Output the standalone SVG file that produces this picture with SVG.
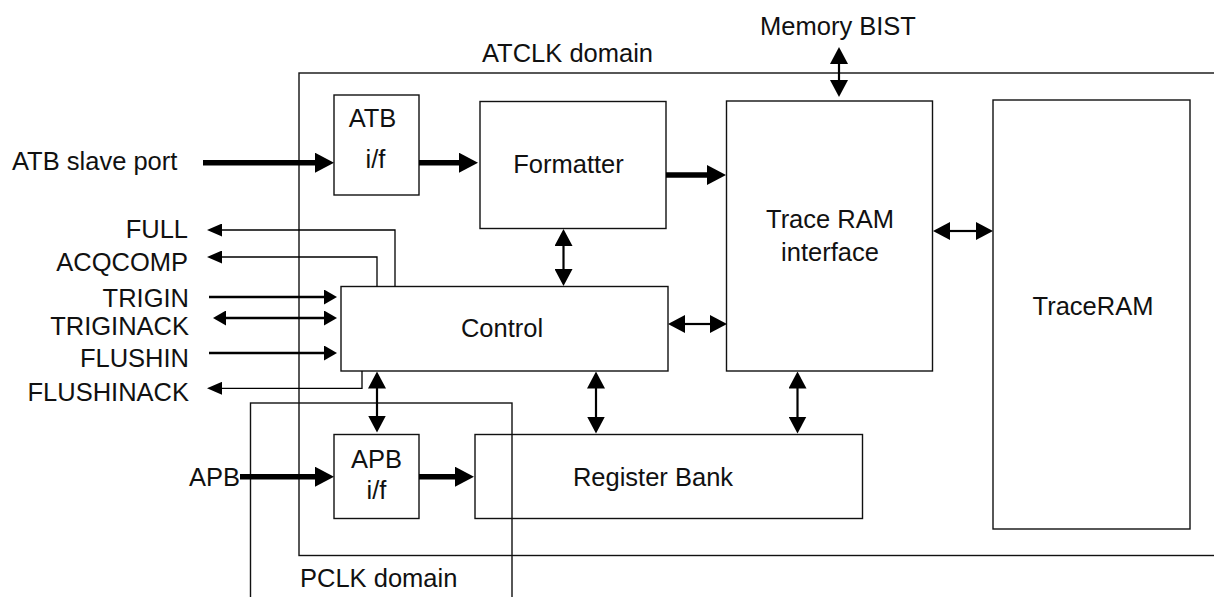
<svg xmlns="http://www.w3.org/2000/svg" width="1214" height="597" viewBox="0 0 1214 597">
<style>
.box{fill:none;stroke:#111;stroke-width:1.4}
.t{font-family:"Liberation Sans",Arial,Helvetica,sans-serif;font-size:25.5px;fill:#111}
.m{text-anchor:middle}
.e{text-anchor:end}
.thick{fill:none;stroke:#000;stroke-width:5.5;marker-end:url(#hk)}
.dbl{fill:none;stroke:#000;stroke-width:2.2;marker-start:url(#hm);marker-end:url(#hm)}
.in{fill:none;stroke:#000;stroke-width:2.6;marker-end:url(#ht)}
.out{fill:none;stroke:#000;stroke-width:1.3;marker-end:url(#hs)}
</style>
<defs>
<marker id="hk" viewBox="0 0 19 20" markerWidth="19" markerHeight="20" refX="1" refY="10" orient="auto" markerUnits="userSpaceOnUse"><path d="M0,0 L19,10 L0,20 z" fill="#000"/></marker>
<marker id="hm" viewBox="0 0 17 18" markerWidth="17" markerHeight="18" refX="1" refY="9" orient="auto-start-reverse" markerUnits="userSpaceOnUse"><path d="M0,0 L17,9 L0,18 z" fill="#000"/></marker>
<marker id="ht" viewBox="0 0 13 15" markerWidth="13" markerHeight="15" refX="1" refY="7.5" orient="auto-start-reverse" markerUnits="userSpaceOnUse"><path d="M0,0 L13,7.5 L0,15 z" fill="#000"/></marker>
<marker id="hs" viewBox="0 0 15 13" markerWidth="15" markerHeight="13" refX="1" refY="6.5" orient="auto" markerUnits="userSpaceOnUse"><path d="M0,0 L15,6.5 L0,13 z" fill="#000"/></marker>
</defs>
<rect width="1214" height="597" fill="#fff"/>

<g id="atclk-domain">
<rect class="box" x="299" y="73" width="925" height="482.5"/>
<text class="t" x="482" y="62">ATCLK domain</text>
</g>
<g id="pclk-domain">
<rect class="box" x="250.5" y="403" width="261.5" height="210"/>
<text class="t" x="300" y="587">PCLK domain</text>
</g>
<g id="atb-if">
<rect class="box" x="334" y="95" width="85" height="100"/>
<text class="t m" x="372.5" y="127">ATB</text>
<text class="t m" x="375.5" y="168">i/f</text>
</g>
<g id="formatter">
<rect class="box" x="480" y="101.5" width="186" height="127"/>
<text class="t m" x="568.5" y="173">Formatter</text>
</g>
<g id="trace-ram-interface">
<rect class="box" x="726.5" y="101" width="206" height="270"/>
<text class="t m" x="830" y="228">Trace RAM</text>
<text class="t m" x="830" y="261">interface</text>
</g>
<g id="traceram">
<rect class="box" x="993" y="100" width="197" height="429"/>
<text class="t m" x="1093" y="315">TraceRAM</text>
</g>
<g id="control">
<rect class="box" x="341" y="286.5" width="327" height="84.5"/>
<text class="t m" x="502" y="337">Control</text>
</g>
<g id="apb-if">
<rect class="box" x="334" y="434.5" width="85" height="84"/>
<text class="t m" x="376.5" y="468">APB</text>
<text class="t m" x="376.5" y="499">i/f</text>
</g>
<g id="register-bank">
<rect class="box" x="475" y="434.5" width="387.5" height="84"/>
<text class="t m" x="653" y="486">Register Bank</text>
</g>
<g id="external-labels">
<text class="t" x="12" y="170">ATB slave port</text>
<text class="t m" x="838" y="35">Memory BIST</text>
<text class="t e" x="188" y="238">FULL</text>
<text class="t e" x="188" y="271">ACQCOMP</text>
<text class="t e" x="189" y="307">TRIGIN</text>
<text class="t e" x="189" y="335">TRIGINACK</text>
<text class="t e" x="189" y="367">FLUSHIN</text>
<text class="t e" x="189" y="401">FLUSHINACK</text>
<text class="t e" x="240" y="486">APB</text>
</g>

<g id="connectors">
<path class="thick" d="M203,162.7 H316"/>
<path class="thick" d="M419,162.7 H460"/>
<path class="thick" d="M666,175 H708"/>
<path class="thick" d="M240,476.7 H316"/>
<path class="thick" d="M419,476.7 H456"/>
<path class="dbl" d="M839,63 V81"/>
<path class="dbl" d="M949,231 H977"/>
<path class="dbl" d="M563.5,245 V270"/>
<path class="dbl" d="M684,324 H711"/>
<path class="dbl" d="M596,387.5 V417.5"/>
<path class="dbl" d="M797.5,387.5 V417.5"/>
<path class="dbl" d="M377,387.5 V416.5"/>
<path class="in" d="M209,297 H325"/>
<path class="in" d="M225,318 H325" style="marker-start:url(#ht)"/>
<path class="in" d="M209,353 H325"/>
<path class="out" d="M395,286.5 V230 H221"/>
<path class="out" d="M377,286.5 V257 H221"/>
<path class="out" d="M362,371 V388.3 H221"/>
</g>
</svg>
